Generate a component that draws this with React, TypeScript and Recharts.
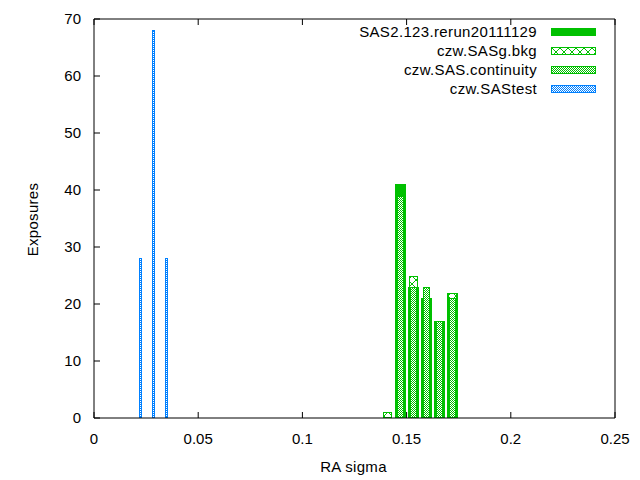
import { Bar, ComposedChart, Label, Legend, XAxis, YAxis } from "recharts";

// histogram bins (RA sigma) and counts per run
const binCenters = [0.0222, 0.0285, 0.0347, 0.1407, 0.147, 0.1532, 0.1595, 0.1657, 0.172];
const rerun = [null, null, null, null, 41, 23, 21, 17, 22];
const bkg = [null, null, null, 1, 39, 25, 21, 17, 22];
const continuity = [null, null, null, null, 39, 23, 23, 17, 21];
const saTest = [28, 68, 28, null, null, null, null, null, null];
const seriesNames = ["SAS2.123.rerun20111129", "czw.SASg.bkg", "czw.SAS.continuity", "czw.SAStest"];
const xTicks = [0, 0.05, 0.1, 0.15, 0.2, 0.25];
const yTicks = [0, 10, 20, 30, 40, 50, 60, 70];

const data = binCenters.map((x, i) => ({
  x,
  rerun: rerun[i],
  bkg: bkg[i],
  cont: continuity[i],
  test: saTest[i],
}));

const GREEN = "#00c000";
const BLUE = "#0080ff";
const FONT = "'Liberation Sans', Arial, sans-serif";
const tickStyle = { fill: "#000", fontSize: 15, fontFamily: FONT };

// gnuplot-ish boxes: drawn centred on the bin, with own width
function boxShape(w: number, fill: string, stroke?: string) {
  return (props: any) => {
    const { x, y, width, height } = props;
    if (x == null || !height || height <= 0) return <g />;
    const cx = x + width / 2;
    if (!stroke) {
      return (
        <rect x={cx - w / 2} y={y} width={w} height={height} fill={fill} shapeRendering="crispEdges" />
      );
    }
    return (
      <rect
        x={cx - w / 2 + 0.5}
        y={y + 0.5}
        width={w - 1}
        height={height - 1}
        fill={fill}
        stroke={stroke}
        strokeWidth={1}
        shapeRendering="crispEdges"
      />
    );
  };
}

const swatches = [
  { fill: GREEN, stroke: undefined },
  { fill: "url(#xpat)", stroke: GREEN },
  { fill: "url(#checkG)", stroke: GREEN },
  { fill: "url(#checkB)", stroke: BLUE },
];

function KeyBox() {
  return (
    <svg width={640} height={100} style={{ display: "block" }}>
      {seriesNames.map((name, i) => {
        const base = 37 + i * 19;
        const s = swatches[i];
        return (
          <g key={name}>
            <text
              x={537}
              y={base}
              textAnchor="end"
              fontSize={15}
              letterSpacing={0.35}
              fontFamily={FONT}
              fill="#000"
            >
              {name}
            </text>
            <rect
              x={s.stroke ? 551.5 : 551}
              y={s.stroke ? base - 8.5 : base - 9}
              width={s.stroke ? 44 : 45}
              height={s.stroke ? 7 : 8}
              fill={s.fill}
              stroke={s.stroke}
              shapeRendering="crispEdges"
            />
          </g>
        );
      })}
    </svg>
  );
}

export default function App() {
  return (
    <div style={{ position: "absolute", left: 0, top: 0, width: 640, height: 480, background: "#fff" }}>
      <ComposedChart
        width={640}
        height={480}
        data={data}
        margin={{ top: 9, right: 15, left: 34, bottom: 32 }}
        barSize={11}
        barGap={-11}
      >
        <defs>
          <pattern id="xpat" width={8} height={8} patternUnits="userSpaceOnUse">
            <rect width={8} height={8} fill="#fff" />
            <path d="M0,0 L8,8 M8,0 L0,8" stroke={GREEN} strokeWidth={1} />
          </pattern>
          <pattern id="checkG" width={2} height={2} patternUnits="userSpaceOnUse">
            <rect width={2} height={2} fill="#fff" />
            <rect width={1} height={1} fill={GREEN} />
            <rect x={1} y={1} width={1} height={1} fill={GREEN} />
          </pattern>
          <pattern id="checkB" width={2} height={2} patternUnits="userSpaceOnUse">
            <rect width={2} height={2} fill="#fff" />
            <rect width={1} height={1} fill={BLUE} />
            <rect x={1} y={1} width={1} height={1} fill={BLUE} />
          </pattern>
        </defs>
        <XAxis
          type="number"
          dataKey="x"
          domain={[0, 0.25]}
          ticks={xTicks}
          interval={0}
          height={30}
          tickSize={-6}
          tickMargin={21}
          tick={tickStyle}
          axisLine={{ stroke: "#000" }}
          tickLine={{ stroke: "#000" }}
        >
          <Label
            content={({ viewBox }: any) => (
              <text
                x={viewBox.x + viewBox.width / 2 - 1}
                y={viewBox.y + 54}
                textAnchor="middle"
                fontSize={15}
                letterSpacing={0.3}
                fontFamily={FONT}
                fill="#000"
              >
                RA sigma
              </text>
            )}
          />
        </XAxis>
        <XAxis
          xAxisId="top"
          orientation="top"
          type="number"
          dataKey="x"
          domain={[0, 0.25]}
          ticks={xTicks}
          interval={0}
          height={10}
          tickSize={-6}
          tickFormatter={() => ""}
          axisLine={{ stroke: "#000" }}
          tickLine={{ stroke: "#000" }}
        />
        <YAxis
          domain={[0, 70]}
          ticks={yTicks}
          interval={0}
          width={60}
          tickSize={-6}
          tickMargin={19}
          tick={tickStyle}
          axisLine={{ stroke: "#000" }}
          tickLine={{ stroke: "#000" }}
        >
          <Label
            content={({ viewBox }: any) => {
              const cx = viewBox.x - 1.5;
              const cy = viewBox.y + viewBox.height / 2 + 1;
              return (
                <text
                  x={cx}
                  y={cy}
                  transform={`rotate(-90 ${cx} ${cy})`}
                  textAnchor="middle"
                  dominantBaseline="central"
                  fontSize={15}
                  letterSpacing={0.3}
                  fontFamily={FONT}
                  fill="#000"
                >
                  Exposures
                </text>
              );
            }}
          />
        </YAxis>
        <YAxis
          yAxisId="right"
          orientation="right"
          domain={[0, 70]}
          ticks={yTicks}
          interval={0}
          width={10}
          tickSize={-6}
          tickFormatter={() => ""}
          axisLine={{ stroke: "#000" }}
          tickLine={{ stroke: "#000" }}
        />
        <Legend
          layout="vertical"
          align="center"
          verticalAlign="middle"
          content={() => <KeyBox />}
          wrapperStyle={{ left: 0, top: 0, right: "auto", bottom: "auto", width: 640, height: 100 }}
        />
        <Bar dataKey="rerun" name={seriesNames[0]} isAnimationActive={false} shape={boxShape(11, GREEN)} />
        <Bar dataKey="bkg" name={seriesNames[1]} isAnimationActive={false} shape={boxShape(9, "url(#xpat)", GREEN)} />
        <Bar dataKey="cont" name={seriesNames[2]} isAnimationActive={false} shape={boxShape(7, "url(#checkG)", GREEN)} />
        <Bar dataKey="test" name={seriesNames[3]} isAnimationActive={false} shape={boxShape(3, "url(#checkB)", BLUE)} />
      </ComposedChart>
    </div>
  );
}
